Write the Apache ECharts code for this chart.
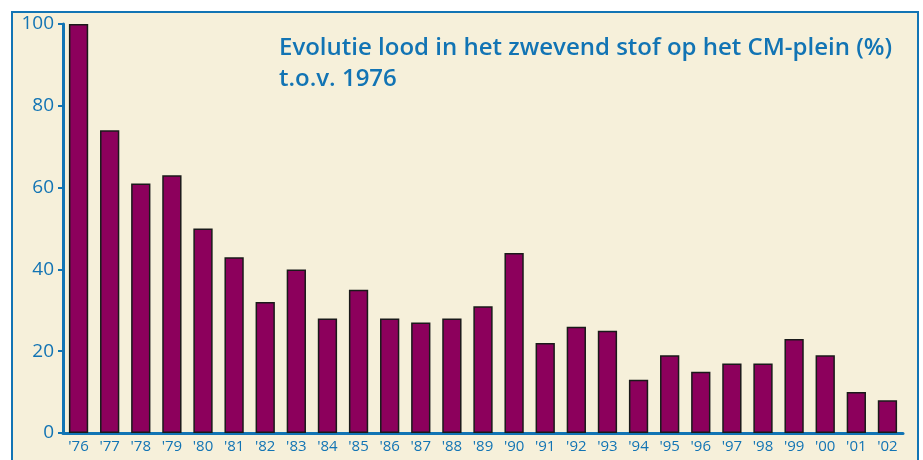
<!DOCTYPE html>
<html>
<head>
<meta charset="utf-8">
<script src="https://cdn.jsdelivr.net/npm/echarts@6/dist/echarts.min.js"></script>
<style>
  html, body { margin: 0; padding: 0; background: #ffffff; }
  #chart { width: 923px; height: 460px; }
</style>
</head>
<body>
<div id="chart"></div>
<script>
const years = ["'76", "'77", "'78", "'79", "'80", "'81", "'82", "'83", "'84", "'85", "'86", "'87", "'88", "'89",
  "'90", "'91", "'92", "'93", "'94", "'95", "'96", "'97", "'98", "'99", "'00", "'01", "'02"]
const leadIndex = [100, 74, 61, 63, 50, 43, 32, 40, 28, 35, 28, 27, 28, 31,
  44, 22, 26, 25, 13, 19, 15, 17, 17, 23, 19, 10, 8]
const titleLines = ['Evolutie lood in het zwevend stof op het CM-plein (%)', 't.o.v. 1976']

const blue = '#1274b4'
const chart = echarts.init(document.getElementById('chart'))

chart.setOption({
  backgroundColor: '#ffffff',
  animation: false,
  graphic: [
    {
      type: 'rect',
      left: 11,
      top: 11,
      z: -10,
      shape: { width: 906, height: 460 },
      style: { fill: '#f6f0da', stroke: blue, lineWidth: 2 },
    },
  ],
  title: {
    text: titleLines.join('\n'),
    left: 274,
    top: 28,
    textStyle: {
      color: blue,
      fontFamily: 'Open Sans',
      fontWeight: 600,
      fontSize: 24,
      lineHeight: 31,
    },
  },
  grid: { left: 63, right: 20, top: 24, bottom: 27 },
  xAxis: {
    type: 'category',
    data: years,
    axisLine: { lineStyle: { color: blue, width: 3 } },
    axisTick: { show: false },
    axisLabel: { color: blue, fontFamily: 'Open Sans', fontSize: 15, margin: 6 },
  },
  yAxis: {
    type: 'value',
    min: 0,
    max: 100,
    interval: 20,
    axisLine: { show: true, lineStyle: { color: blue, width: 3 } },
    axisTick: { show: true, length: 5, lineStyle: { color: blue, width: 2 } },
    axisLabel: { color: blue, fontFamily: 'Open Sans', fontSize: 19, margin: 9 },
    splitLine: { show: false },
  },
  series: [
    {
      type: 'bar',
      data: leadIndex,
      barCategoryGap: '38%',
      itemStyle: { color: '#8c005c', borderColor: '#1a1a1a', borderWidth: 1.5 },
    },
  ],
})
</script>
</body>
</html>
